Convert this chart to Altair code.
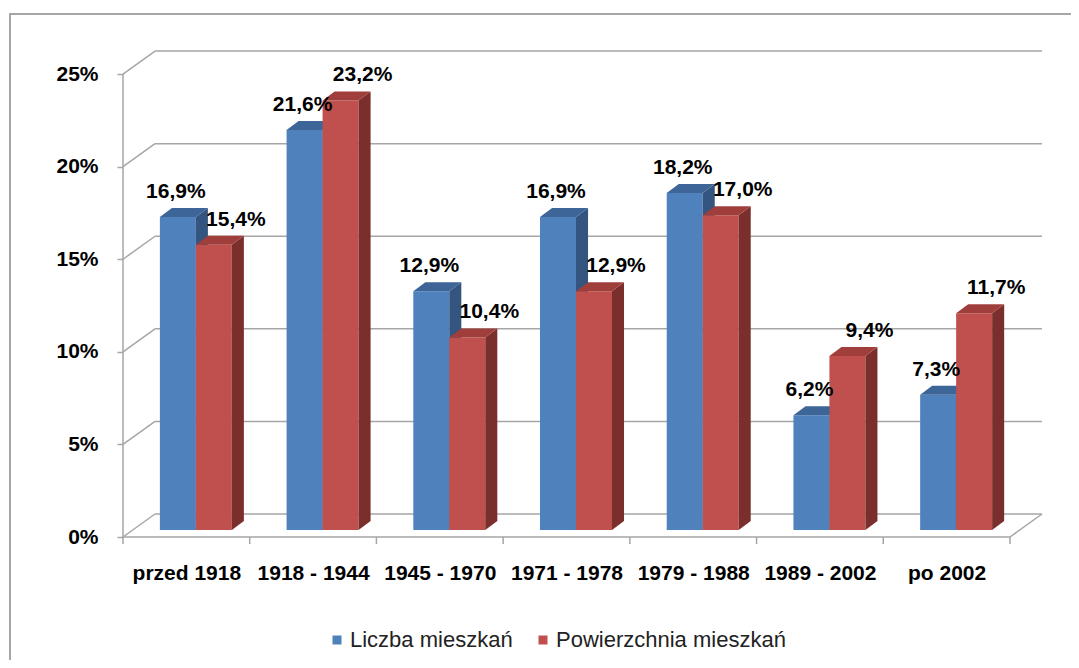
import json
import altair as alt
import pandas as pd

# ---- data ----
categories = ["przed 1918", "1918 - 1944", "1945 - 1970", "1971 - 1978",
              "1979 - 1988", "1989 - 2002", "po 2002"]
liczba = [16.9, 21.6, 12.9, 16.9, 18.2, 6.2, 7.3]
powierzchnia = [15.4, 23.2, 10.4, 12.9, 17.0, 9.4, 11.7]
series_names = ["Liczba mieszkań", "Powierzchnia mieszkań"]
y_ticks = [0, 5, 10, 15, 20, 25]

rows = []
for i, c in enumerate(categories):
    rows.append({"idx": i, "cat": c, "series": series_names[0], "s": 0, "value": liczba[i]})
    rows.append({"idx": i, "cat": c, "series": series_names[1], "s": 1, "value": powierzchnia[i]})
bars = pd.DataFrame(rows)
grid = pd.DataFrame({"g": y_ticks})
ticks = pd.DataFrame({"t": list(range(len(categories) + 1))})
one = pd.DataFrame({"k": [0]})

# ---- pseudo-3D geometry (style constants, in scale units) ----
N = len(categories)
BW = 0.284      # bar width per series (category units)
X0 = 0.291      # left edge of first bar within a category
BY = 0.378      # bar base offset (depth of the bars)
DDX = 0.095     # bar depth, horizontal
DDY = 0.486     # bar depth, vertical
DXB = 0.2526    # back wall offset, horizontal
DYB = 1.242     # back wall offset, vertical
XMAX = N + DXB
YMAX = 26.3

BLUE, RED = "#4F81BD", "#C0504D"
BLUE_TOP, BLUE_SIDE = "#3D6597", "#34557F"
RED_TOP, RED_SIDE = "#A03E3B", "#7B2F2D"
GREY = "#A6A6A6"
FONT = "Liberation Sans"

xs = alt.Scale(domain=[0, XMAX], nice=False, zero=False)
ys = alt.Scale(domain=[0, YMAX], nice=False, zero=False)

x_axis = alt.Axis(values=[i + 0.5 for i in range(N)],
                  labelExpr=json.dumps(categories) + "[round(datum.value - 0.5)]",
                  tickSize=0, domain=False, grid=False, title=None,
                  labelFont=FONT, labelFontSize=21, labelFontWeight="bold",
                  labelColor="#000000", labelPadding=25, labelFlush=False,
                  labelOverlap=False, labelLimit=0)
y_axis = alt.Axis(values=y_ticks, labelExpr="datum.value + '%'",
                  tickSize=6, tickColor=GREY, tickWidth=1.5, domain=False,
                  grid=False, title=None, labelFont=FONT, labelFontSize=21,
                  labelFontWeight="bold", labelColor="#000000", labelPadding=19)


def X(f, **kw):
    return alt.X(f, type="quantitative", scale=xs, axis=x_axis, **kw)


def Y(f, **kw):
    return alt.Y(f, type="quantitative", scale=ys, axis=y_axis, **kw)


layers = []

# outer frame
layers.append(alt.Chart(one).mark_rect(fill=None, stroke=GREY, strokeWidth=2).encode(
    x=alt.value(-113), x2=alt.value(3000), y=alt.value(-36), y2=alt.value(3000)))

# left wall diagonals
layers.append(alt.Chart(grid).transform_calculate(
    x0="0", x1=f"{DXB}", y0="datum.g", y1=f"datum.g + {DYB}"
).mark_rule(color=GREY, strokeWidth=1.5).encode(x=X("x0"), x2="x1", y=Y("y0"), y2="y1"))

# back wall gridlines
layers.append(alt.Chart(grid).transform_calculate(
    x0=f"{DXB}", x1=f"{N} + {DXB}", y0=f"datum.g + {DYB}"
).mark_rule(color=GREY, strokeWidth=1.5).encode(x=X("x0"), x2="x1", y=Y("y0")))

# floor front edge and right diagonal
layers.append(alt.Chart(one).transform_calculate(x0="0", x1=f"{N}", y0="0").mark_rule(
    color=GREY, strokeWidth=1.5).encode(x=X("x0"), x2="x1", y=Y("y0")))
layers.append(alt.Chart(one).transform_calculate(
    x0=f"{N}", x1=f"{N} + {DXB}", y0="0", y1=f"{DYB}"
).mark_rule(color=GREY, strokeWidth=1.5).encode(x=X("x0"), x2="x1", y=Y("y0"), y2="y1"))

# front value axis line
layers.append(alt.Chart(one).transform_calculate(x0="0", y0="0", y1=f"{max(y_ticks)}").mark_rule(
    color=GREY, strokeWidth=1.5).encode(x=X("x0"), y=Y("y0"), y2="y1"))

# category ticks
layers.append(alt.Chart(ticks).mark_rule(color=GREY, strokeWidth=1.5).encode(
    x=X("t"), y=alt.value(487), y2=alt.value(494)))

base = alt.Chart(bars).transform_calculate(
    xl=f"datum.idx + {X0} + datum.s * {BW}",
    xr=f"datum.idx + {X0} + datum.s * {BW} + {BW}",
    yb=f"{BY}",
    yt=f"datum.value + {BY}",
)

legend = alt.Legend(orient="none", legendX=203, legendY=579, direction="horizontal",
                    title=None, symbolType="square", symbolSize=81, symbolStrokeWidth=0,
                    labelFont=FONT, labelFontSize=22, labelColor="#222222",
                    labelLimit=0, columnPadding=19, labelOffset=2, padding=0)
color = alt.Color("series:N", scale=alt.Scale(domain=series_names, range=[BLUE, RED]),
                  legend=legend)

for k, (top_c, side_c) in enumerate([(BLUE_TOP, BLUE_SIDE), (RED_TOP, RED_SIDE)]):
    b = base.transform_filter(alt.datum.s == k)
    # front face
    layers.append(b.mark_rect().encode(x=X("xl:Q"), x2="xr:Q", y=Y("yb:Q"), y2="yt:Q",
                                       color=color))
    # side face
    layers.append(b.transform_calculate(pt="[0, 1]").transform_flatten(["pt"]).transform_calculate(
        ax=f"datum.xr + datum.pt * {DDX}",
        ay=f"datum.yt + datum.pt * {DDY}",
        ay2=f"datum.yb + datum.pt * {DDY}",
    ).mark_area(orient="vertical", color=side_c).encode(
        x=X("ax"), y=Y("ay", stack=None), y2="ay2", detail="idx:N"))
    # top face
    layers.append(b.transform_calculate(pt="[0, 1]").transform_flatten(["pt"]).transform_calculate(
        ay=f"datum.yt + datum.pt * {DDY}",
        ax=f"datum.xl + datum.pt * {DDX}",
        ax2=f"datum.xr + datum.pt * {DDX}",
    ).mark_area(orient="horizontal", color=top_c).encode(
        y=Y("ay"), x=X("ax", stack=None), x2="ax2", detail="idx:N"))

# value labels
for k, dx in [(0, -2), (1, 22)]:
    layers.append(base.transform_filter(alt.datum.s == k).transform_calculate(
        xc="(datum.xl + datum.xr) / 2",
        lab="replace(format(datum.value, '.1f'), '.', ',') + '%'",
    ).mark_text(font=FONT, fontSize=21, fontWeight="bold", color="#000000",
                baseline="middle", align="center", dx=dx, dy=-25).encode(
        x=X("xc"), y=Y("yt:Q"), text="lab:N"))

chart = alt.layer(*layers).properties(
    width=919, height=487,
    padding={"left": 115, "top": 42, "right": 29, "bottom": 123},
    autosize=alt.AutoSizeParams(type="none"),
    background="white",
).configure_view(stroke=None)

chart.save("out.html", embed_options={"renderer": "svg", "actions": False})
